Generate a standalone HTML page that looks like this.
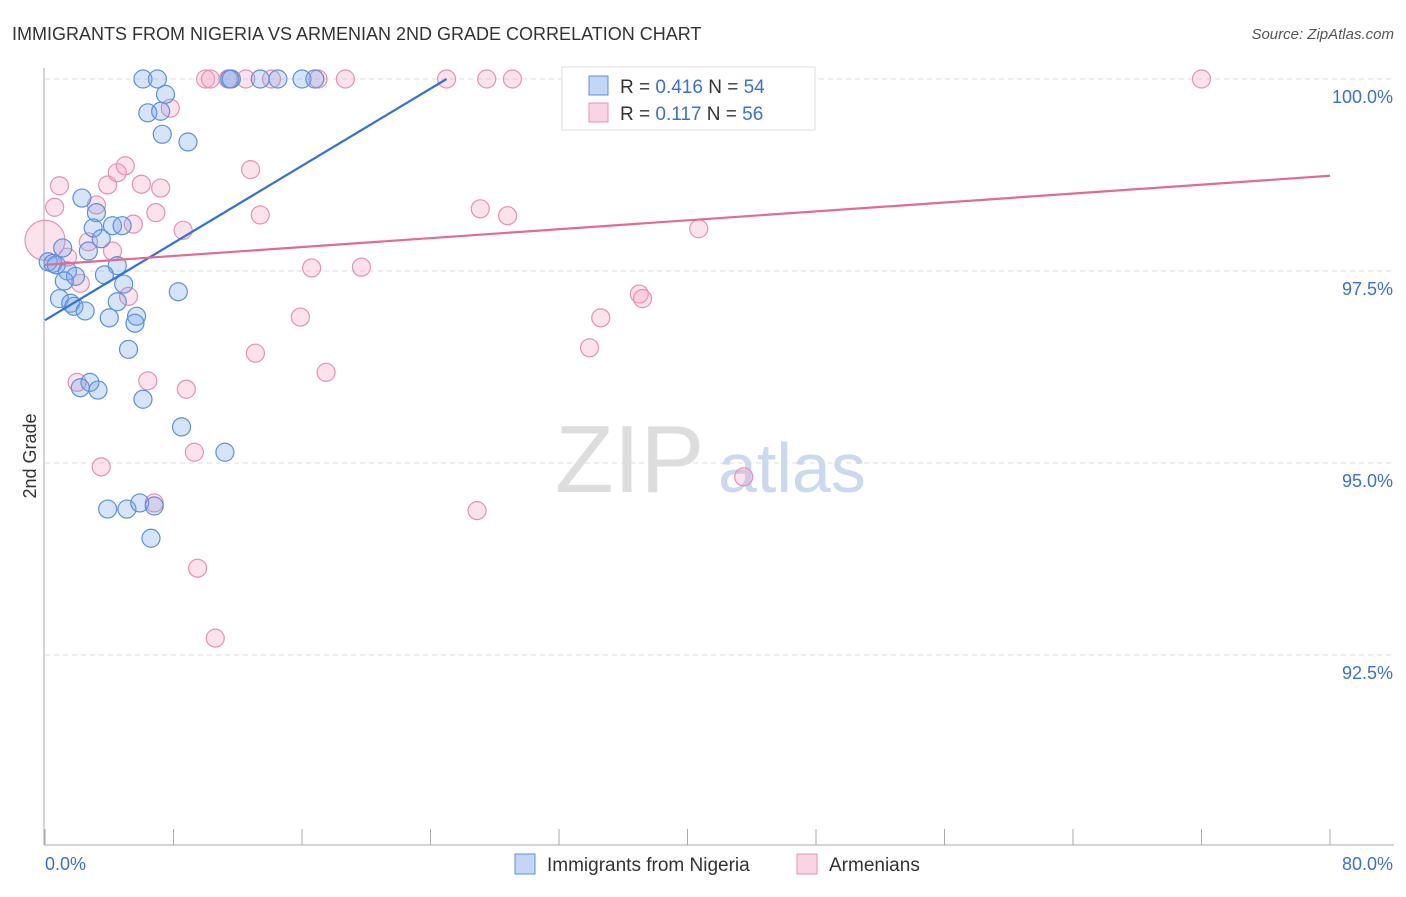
<!DOCTYPE html>
<html><head><meta charset="utf-8"><style>
body{margin:0;background:#fff;font-family:"Liberation Sans",sans-serif;}
svg text{font-family:"Liberation Sans",sans-serif;}
</style></head><body>
<svg id="c" width="1406" height="892">
<text x="12" y="40" font-size="18" fill="#333">IMMIGRANTS FROM NIGERIA VS ARMENIAN 2ND GRADE CORRELATION CHART</text>
<text x="1394" y="39" font-size="15" fill="#555" text-anchor="end" font-style="italic">Source: ZipAtlas.com</text>
<text x="36" y="456" font-size="18" fill="#333" text-anchor="middle" transform="rotate(-90 36 456)">2nd Grade</text>
<g id="grid"></g>
<text x="555" y="492" font-size="96" fill="#ddd" font-family="Liberation Serif">ZIP</text>
<text x="718" y="492" font-size="70" fill="#c9d9f0">atlas</text>
<g id="pts"></g>
<g id="lines"></g>
<g>
<rect x="562" y="67" width="253" height="63" fill="#fff" stroke="#ddd"/>
<rect x="589" y="76" width="19" height="19" fill="rgba(120,165,235,0.45)" stroke="#5b8fe0"/>
<rect x="589" y="103" width="19" height="19" fill="rgba(245,160,190,0.45)" stroke="#e890b0"/>
<text x="620" y="93" font-size="19" fill="#333">R = <tspan fill="#3a6fd8">0.416</tspan>   N = <tspan fill="#3a6fd8">54</tspan></text>
<text x="620" y="120" font-size="19" fill="#333">R =  <tspan fill="#3a6fd8">0.117</tspan>   N = <tspan fill="#3a6fd8">56</tspan></text>
</g>
<g>
<rect x="515" y="854" width="20" height="20" fill="rgba(120,165,235,0.45)" stroke="#5b8fe0"/>
<text x="547" y="871" font-size="19" fill="#333">Immigrants from Nigeria</text>
<rect x="797" y="854" width="20" height="20" fill="rgba(245,160,190,0.45)" stroke="#e890b0"/>
<text x="829" y="871" font-size="19" fill="#333">Armenians</text>
</g>
</svg>
<script>
const yTicks=[100,97.5,95,92.5];
const yTickLabels=["100.0%","97.5%","95.0%","92.5%"];
const xEnds=[0,80];
const xEndLabels=["0.0%","80.0%"];
const blueX=[6.1,7.0,11.6,13.4,14.5,16.0,16.8,11.5,7.5,6.4,7.2,7.3,8.9,2.3,3.2,3.0,4.2,4.8,3.5,2.7,1.1,0.2,0.5,0.7,1.4,1.9,4.5,3.7,1.2,4.9,8.3,0.9,1.6,1.8,2.5,4.5,5.7,4.0,5.6,5.2,2.8,2.2,3.3,6.1,8.5,11.2,3.9,5.1,5.9,6.8,6.6];
const blueY=[100,100,100,100,100,100,100,100,99.8,99.56,99.58,99.28,99.18,98.45,98.26,98.06,98.09,98.09,97.92,97.76,97.8,97.62,97.6,97.58,97.5,97.43,97.57,97.45,97.37,97.33,97.23,97.14,97.08,97.04,96.98,97.1,96.91,96.89,96.82,96.48,96.05,95.98,95.95,95.83,95.47,95.14,94.4,94.4,94.48,94.44,94.02];
const pinkX=[10.0,10.3,11.4,12.5,14.1,17.0,18.7,25.0,27.5,29.1,32.8,72.0,7.8,0.9,0.6,3.9,4.5,5.0,6.0,7.2,3.2,6.9,13.4,12.8,8.6,5.5,2.7,4.2,1.4,2.2,5.2,27.1,28.8,40.7,16.6,19.7,15.9,34.6,37.0,37.2,13.1,33.9,17.5,2.0,6.4,8.8,3.5,9.3,6.8,43.5,26.9,9.5,10.6,0.0];
const pinkY=[100,100,100,100,100,100,100,100,100,100,100,100,99.62,98.61,98.33,98.62,98.78,98.87,98.63,98.58,98.36,98.26,98.23,98.82,98.03,98.11,97.88,97.76,97.68,97.34,97.17,98.31,98.22,98.05,97.54,97.55,96.9,96.89,97.2,97.14,96.43,96.5,96.18,96.05,96.07,95.96,94.95,95.14,94.48,94.82,94.38,93.63,92.72,97.9];
const blueLine=[[0,96.86],[25,100]];
const pinkLine=[[0,97.58],[80,98.74]];
const NS="http://www.w3.org/2000/svg";
const xs=v=>45+v*(1285/80);
const ys=v=>79+(100-v)*76.8;
function mk(t,a,p){const e=document.createElementNS(NS,t);for(const k in a)e.setAttribute(k,a[k]);p.appendChild(e);return e;}
const svg=document.getElementById('c'),grid=document.getElementById('grid');
yTicks.forEach((v,i)=>{
 const l=mk('line',{x1:45,x2:1394,y1:ys(v),y2:ys(v),stroke:'#ddd','stroke-dasharray':'5,4'},grid);
 
 
 const t=mk('text',{x:1393,y:ys(v)+24,'font-size':18,fill:'#3a6fd8','text-anchor':'end'},grid);
 t.textContent=yTickLabels[i];
 
 
});
let a=mk('line',{x1:44,x2:44,y1:68,y2:845,stroke:'#aaa'},grid);


a=mk('line',{x1:44,x2:1394,y1:845,y2:845,stroke:'#aaa'},grid);


for(let i=0;i<=10;i++){const tk=mk('line',{x1:xs(i*8),x2:xs(i*8),y1:829,y2:845,stroke:'#aaa'},grid);
 
 }
xEnds.forEach((v,i)=>{const t=mk('text',{x:i?1393:45,y:870,'font-size':18,fill:'#3a6fd8','text-anchor':i?'end':'start'},grid);
 t.textContent=xEndLabels[i];
 
 });
const pts=document.getElementById('pts');
function dots(X,Y,fill,stroke,name){X.forEach((x,i)=>{const big=(name==='armenian-point'&&x===0&&Y[i]===97.9);
 const c=mk('circle',{cx:xs(x),cy:ys(Y[i]),r:big?20:9,fill:fill,stroke:stroke,'stroke-width':1.2},pts);
 
 });}
dots(pinkX,pinkY,'rgba(245,160,190,0.3)','#e890b0','armenian-point');
dots(blueX,blueY,'rgba(120,165,235,0.3)','#5b8fe0','nigeria-point');
const lg=document.getElementById('lines');
let l1=mk('line',{x1:xs(blueLine[0][0]),y1:ys(blueLine[0][1]),x2:xs(blueLine[1][0]),y2:ys(blueLine[1][1]),stroke:'#2f72d8','stroke-width':2.2},lg);


let l2=mk('line',{x1:xs(pinkLine[0][0]),y1:ys(pinkLine[0][1]),x2:xs(pinkLine[1][0]),y2:ys(pinkLine[1][1]),stroke:'#e26a95','stroke-width':2.2},lg);


</script>
</body></html>
